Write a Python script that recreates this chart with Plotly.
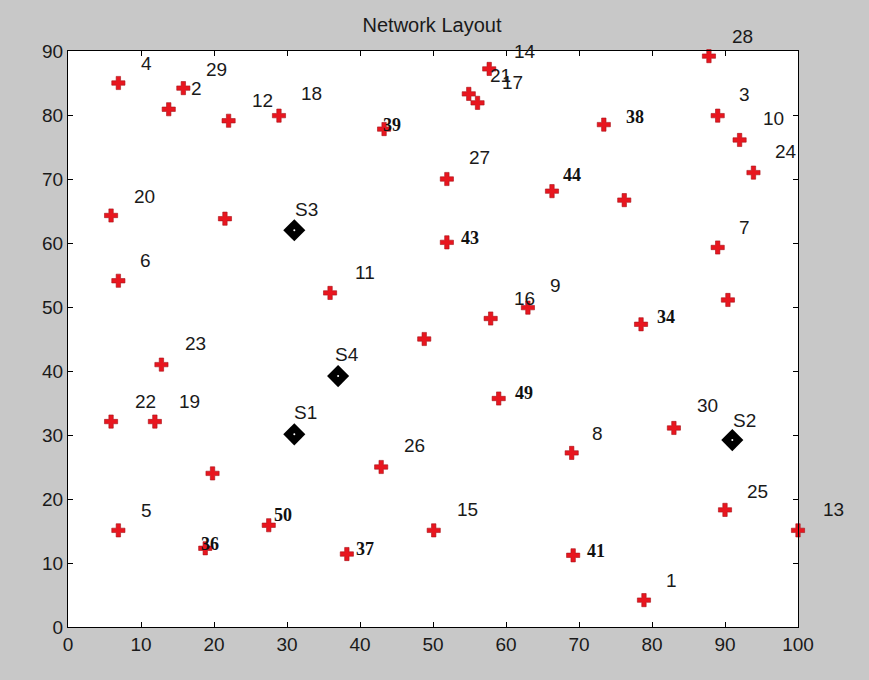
import plotly.graph_objects as go

# Sensor nodes (red markers)
node_x = [6.9, 15.8, 13.8, 22.0, 28.9, 57.7, 54.9, 56.1, 43.3, 51.9, 66.3, 51.9,
          87.8, 89.0, 92.0, 93.9, 73.4, 76.2, 89.0, 5.9, 21.5, 6.9, 35.9, 12.8,
          5.9, 11.9, 63.0, 57.9, 48.8, 59.0, 69.0, 90.4, 78.5, 83.0, 19.8, 6.9,
          27.5, 18.8, 38.2, 42.9, 50.1, 69.2, 90.0, 100.0, 78.9]
node_y = [85.0, 84.2, 80.9, 79.1, 79.9, 87.2, 83.3, 81.9, 77.8, 70.0, 68.1, 60.1,
          89.2, 79.9, 76.1, 71.0, 78.5, 66.7, 59.3, 64.3, 63.8, 54.1, 52.2, 41.0,
          32.1, 32.1, 49.9, 48.2, 45.0, 35.7, 27.2, 51.1, 47.3, 31.1, 24.0, 15.1,
          15.9, 12.3, 11.4, 25.0, 15.1, 11.2, 18.3, 15.1, 4.2]

# Sinks (black diamonds)
sink_x = [31.0, 91.0, 31.0, 37.0]
sink_y = [30.1, 29.2, 62.0, 39.2]

# Plain labels
label_text = ["4", "29", "2", "12", "18", "14", "21", "17", "28", "3", "10", "24",
              "27", "20", "S3", "7", "6", "11", "9", "16", "23", "S4", "22", "19",
              "30", "S1", "S2", "8", "26", "25", "13", "5", "15", "1"]
label_x = [10.7, 20.4, 17.6, 26.6, 33.4, 62.6, 59.3, 60.9, 92.4, 92.7, 96.7, 98.4,
           56.4, 10.5, 32.7, 92.7, 10.6, 40.7, 66.8, 62.5, 17.4, 38.2, 10.6, 16.6,
           87.6, 32.6, 92.7, 72.5, 47.4, 94.5, 104.8, 10.7, 54.7, 82.7]
label_y = [88.1, 87.1, 84.2, 82.2, 83.4, 90.0, 86.1, 85.1, 92.2, 83.2, 79.4, 74.3,
           73.3, 67.3, 65.3, 62.4, 57.2, 55.4, 53.3, 51.3, 44.3, 42.6, 35.3, 35.3,
           34.6, 33.5, 32.2, 30.2, 28.3, 21.1, 18.3, 18.2, 18.4, 7.3]

# Bold serif labels
blabel_text = ["39", "43", "44", "38", "34", "49", "50", "36", "37", "41"]
blabel_x = [44.4, 55.1, 69.1, 77.7, 81.9, 62.5, 29.4, 19.5, 40.7, 72.3]
blabel_y = [78.5, 60.8, 70.7, 79.7, 48.4, 36.6, 17.5, 13.0, 12.2, 11.9]

x_range = [0, 100]
y_range = [0, 90]
x_ticks = list(range(0, 101, 10))
y_ticks = list(range(0, 91, 10))


def px(v):
    return (v - x_range[0]) / (x_range[1] - x_range[0])


def py(v):
    return (v - y_range[0]) / (y_range[1] - y_range[0])


fig = go.Figure()

fig.add_trace(go.Scatter(
    x=node_x, y=node_y, mode="markers",
    marker=dict(symbol="cross", size=11, color="#e8161f",
                line=dict(color="#a81018", width=0.6)),
    cliponaxis=False, hoverinfo="skip"))

fig.add_trace(go.Scatter(
    x=sink_x, y=sink_y, mode="markers",
    marker=dict(symbol="diamond", size=17, color="#000000",
                line=dict(color="#000000", width=0)),
    cliponaxis=False, hoverinfo="skip"))
fig.add_trace(go.Scatter(
    x=sink_x, y=sink_y, mode="markers",
    marker=dict(symbol="circle", size=2, color="#ffffff"),
    cliponaxis=False, hoverinfo="skip"))

annotations = []
for t, x, y in zip(label_text, label_x, label_y):
    annotations.append(dict(
        x=px(x), y=py(y), xref="paper", yref="paper", text=t, showarrow=False,
        xanchor="center", yanchor="middle",
        font=dict(family="Liberation Sans, Arial", size=19, color="#1a1a1a")))
for t, x, y in zip(blabel_text, blabel_x, blabel_y):
    annotations.append(dict(
        x=px(x), y=py(y), xref="paper", yref="paper", text="<b>" + t + "</b>",
        showarrow=False, xanchor="center", yanchor="middle",
        font=dict(family="Liberation Serif, Times New Roman", size=18,
                  color="#111111")))

axis_common = dict(
    showgrid=False, zeroline=False, showline=True, linecolor="#000000",
    linewidth=1, mirror="ticks", ticks="inside", ticklen=5,
    tickcolor="#000000",
    tickfont=dict(family="Liberation Sans, Arial", size=19, color="#1a1a1a"),
)

fig.update_layout(
    width=869, height=680,
    margin=dict(l=68, r=71, t=51, b=53),
    paper_bgcolor="#c8c8c8", plot_bgcolor="#ffffff",
    showlegend=False,
    annotations=annotations,
    title=dict(text="Network Layout", x=(432 / 869), xanchor="center",
               y=1 - 25 / 680, yanchor="middle", yref="container",
               font=dict(family="Liberation Sans, Arial", size=20, color="#1a1a1a")),
    xaxis=dict(range=x_range, tickvals=x_ticks, ticktext=[str(v) for v in x_ticks],
               **axis_common),
    yaxis=dict(range=y_range, tickvals=y_ticks, ticktext=[str(v) for v in y_ticks],
               **axis_common),
)

fig.write_html("out.html")
